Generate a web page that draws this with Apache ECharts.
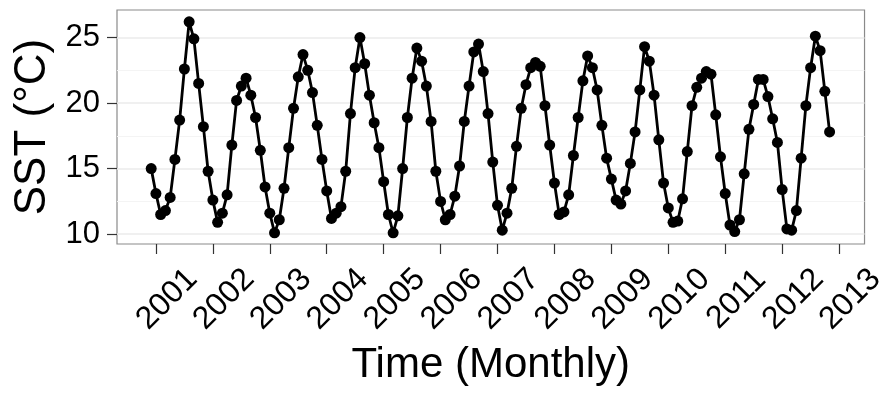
<!DOCTYPE html>
<html>
<head>
<meta charset="utf-8">
<script src="https://cdn.jsdelivr.net/npm/echarts@6/dist/echarts.min.js"></script>
<style>
html,body{margin:0;padding:0;background:#fff;}
#chart{width:889px;height:400px;}
</style>
</head>
<body>
<div id="chart"></div>
<script>
// Monthly SST values, first month plotted at START_YEAR
var START_YEAR = 2000 + 11 / 12;
var sst = [
  15.0, 13.1, 11.5, 11.8, 12.8, 15.7, 18.7, 22.6, 26.2, 24.9, 21.5, 18.2,
  14.8, 12.6, 10.9, 11.6, 13.0, 16.8, 20.2, 21.3, 21.9, 20.6, 18.9, 16.4,
  13.6, 11.6, 10.1, 11.1, 13.5, 16.6, 19.6, 22.0, 23.7, 22.5, 20.8, 18.3,
  15.7, 13.3, 11.2, 11.6, 12.1, 14.8, 19.2, 22.7, 25.0, 23.0, 20.6, 18.5,
  16.6, 14.0, 11.5, 10.1, 11.4, 15.0, 18.9, 21.9, 24.2, 23.2, 21.3, 18.6,
  14.8, 12.5, 11.1, 11.5, 12.9, 15.2, 18.6, 21.3, 23.9, 24.5, 22.4, 19.2,
  15.5, 12.2, 10.3, 11.6, 13.5, 16.7, 19.6, 21.4, 22.7, 23.1, 22.8, 19.8,
  16.8, 13.9, 11.5, 11.7, 13.0, 16.0, 18.9, 21.7, 23.6, 22.7, 21.0, 18.3,
  15.8, 14.2, 12.6, 12.3, 13.3, 15.4, 17.8, 21.0, 24.3, 23.2, 20.6, 17.2,
  13.9, 12.0, 10.9, 11.0, 12.7, 16.3, 19.8, 21.2, 21.9, 22.4, 22.2, 19.1,
  15.9, 13.1, 10.7, 10.2, 11.1, 14.6, 18.0, 19.9, 21.8, 21.8, 20.5, 18.8,
  17.0, 13.4, 10.4, 10.3, 11.8, 15.8, 19.8, 22.7, 25.1, 24.0, 20.9, 17.8
];
var yearTicks = [2001, 2002, 2003, 2004, 2005, 2006, 2007, 2008, 2009, 2010, 2011, 2012, 2013];
var sstTicks = [10, 15, 20, 25];
var sstMinorGrid = [12.5, 17.5, 22.5];

var points = sst.map(function (v, i) { return [START_YEAR + i / 12, v]; });

var FONT = '"Liberation Sans", Arial, sans-serif';
var chart = echarts.init(document.getElementById('chart'), null, {renderer: 'canvas'});
chart.setOption({
  animation: false,
  backgroundColor: '#ffffff',
  grid: {left: 117, right: 18, top: 10, bottom: 156, show: true,
         borderColor: '#8a8a8a', borderWidth: 1.2, backgroundColor: 'transparent'},
  xAxis: {
    type: 'value', min: 2000.316, max: 2013.447,
    name: 'Time (Monthly)', nameLocation: 'middle', nameGap: 100,
    nameTextStyle: {fontFamily: FONT, fontSize: 42, color: '#000'},
    axisLine: {show: false},
    axisTick: {show: true, length: 10, customValues: yearTicks, lineStyle: {color: '#333', width: 1.2}},
    axisLabel: {customValues: yearTicks, rotate: 45, align: 'center', verticalAlign: 'top', margin: 44,
                fontFamily: FONT, fontSize: 32, color: '#000',
                formatter: function (v) { return String(Math.round(v)); }},
    splitLine: {show: false}
  },
  yAxis: {
    type: 'value', min: 9.25, max: 27.1,
    name: 'SST (°C)', nameLocation: 'middle', nameGap: 52, nameRotate: 90,
    nameTextStyle: {fontFamily: FONT, fontSize: 44, color: '#000'},
    axisLine: {show: false},
    axisTick: {show: true, length: 10, customValues: sstTicks, lineStyle: {color: '#333', width: 1.2}},
    axisLabel: {customValues: sstTicks, margin: 17, fontFamily: FONT, fontSize: 31, color: '#000'},
    splitLine: {show: false}
  },
  series: [
    {
      type: 'line', data: [], z: 0, silent: true,
      markLine: {
        silent: true, symbol: 'none', animation: false, z: 0,
        label: {show: false},
        data: sstTicks.map(function (v) { return {yAxis: v, lineStyle: {color: '#ebebeb', width: 1.5, type: 'solid'}}; })
          .concat(sstMinorGrid.map(function (v) { return {yAxis: v, lineStyle: {color: '#f4f4f4', width: 1, type: 'solid'}}; }))
      }
    },
    {
      type: 'line', data: points, z: 3,
      symbol: 'circle', symbolSize: 11, showSymbol: true,
      lineStyle: {color: '#000', width: 2.8},
      itemStyle: {color: '#000'}
    }
  ]
});
</script>
</body>
</html>
